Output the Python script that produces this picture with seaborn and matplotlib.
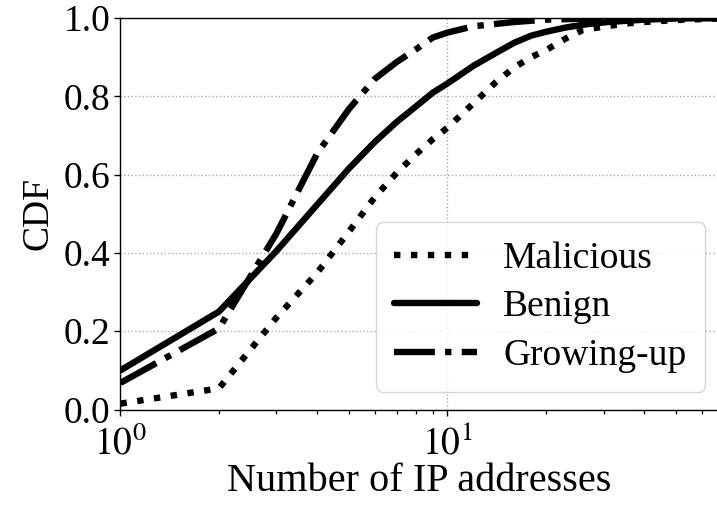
import numpy as np
import pandas as pd
import matplotlib
matplotlib.use("Agg")
import matplotlib.pyplot as plt
import seaborn as sns
from matplotlib.ticker import FixedLocator, FixedFormatter, LogLocator, NullFormatter

# ---- data ----
mal_x = [1, 2, 3, 4, 5, 6, 7, 8, 9, 10, 12, 14, 16, 18, 20, 23, 26, 30, 35, 40, 50, 67]
mal_y = [0.015, 0.054, 0.235, 0.35, 0.455, 0.543, 0.605, 0.652, 0.69, 0.72, 0.782, 0.835,
         0.874, 0.90, 0.918, 0.948, 0.970, 0.978, 0.986, 0.99, 0.995, 0.999]

ben_x = [1, 2, 3, 4, 5, 6, 7, 8, 9, 10, 12, 14, 16, 18, 20, 23, 27, 31, 40, 50, 67]
ben_y = [0.10, 0.25, 0.405, 0.524, 0.616, 0.684, 0.735, 0.774, 0.809, 0.833, 0.878, 0.91,
         0.937, 0.955, 0.965, 0.976, 0.985, 0.99, 0.996, 0.999, 1.0]

grw_x = [1, 2, 3, 4, 5, 6, 7, 8, 9, 10, 12, 14, 16, 20, 25, 30, 67]
grw_y = [0.068, 0.207, 0.45, 0.655, 0.768, 0.845, 0.888, 0.92, 0.95, 0.963, 0.979, 0.985,
         0.99, 0.996, 0.998, 1.0, 1.0]

series_names = ["Malicious", "Benign", "Growing-up"]
y_ticks = [0.0, 0.2, 0.4, 0.6, 0.8, 1.0]
x_label = "Number of IP addresses"
y_label = "CDF"

df = pd.concat([
    pd.DataFrame({"x": mal_x, "y": mal_y, "kind": series_names[0]}),
    pd.DataFrame({"x": ben_x, "y": ben_y, "kind": series_names[1]}),
    pd.DataFrame({"x": grw_x, "y": grw_y, "kind": series_names[2]}),
], ignore_index=True)

sns.set_theme(style="ticks")
plt.rcParams["font.family"] = ["Liberation Serif", "DejaVu Serif"]
plt.rcParams["mathtext.fontset"] = "stix"
for k in ["text.color", "axes.labelcolor", "xtick.color", "ytick.color", "axes.edgecolor"]:
    plt.rcParams[k] = "black"

fig = plt.figure(figsize=(7.17, 5.07), dpi=100)
ax = fig.add_axes([0.168, 0.1923, 0.832, 0.772])

lw = 4.6
sns.lineplot(
    data=df, x="x", y="y", hue="kind", style="kind",
    hue_order=series_names, style_order=series_names,
    palette=["black", "black", "black"],
    dashes={"Malicious": (1, 1.65), "Benign": "", "Growing-up": (6.4, 1.6, 1, 1.6)},
    linewidth=lw, ax=ax, sort=True, estimator=None,
)

ax.set_xscale("log")
ax.set_xlim(1, 66.7)
ax.set_ylim(0, 1.0)
ax.xaxis.set_major_locator(FixedLocator([1, 10]))
ax.xaxis.set_major_formatter(FixedFormatter([r"$10^0$", r"$10^1$"]))
ax.xaxis.set_minor_locator(LogLocator(base=10, subs=np.arange(2, 10)))
ax.xaxis.set_minor_formatter(NullFormatter())
ax.set_yticks(y_ticks)
ax.set_yticklabels([f"{v:.1f}" for v in y_ticks])

fs = 27
ax.tick_params(axis="both", which="major", labelsize=fs, direction="out", length=4,
               width=1.0, color="black", labelcolor="black")
ax.tick_params(axis="y", which="major", pad=3)
ax.tick_params(axis="x", which="major", pad=8)
ax.tick_params(axis="x", which="minor", direction="out", length=3, width=0.9, color="black")
ax.set_xlabel(x_label, fontsize=29, labelpad=0, color="black")
ax.set_ylabel(y_label, fontsize=fs, labelpad=6, color="black")

ax.grid(True, which="major", linestyle=":", color="#aaaaaa", linewidth=1.0)
ax.set_axisbelow(True)
for s in ["left", "bottom", "top"]:
    ax.spines[s].set_color("black")
    ax.spines[s].set_linewidth(1.0)
ax.spines["right"].set_visible(False)

leg = ax.legend(loc="lower right", fontsize=fs, frameon=True, handlelength=2.2,
                borderpad=0.5, labelspacing=0.38, handletextpad=0.7,
                borderaxespad=0.0, bbox_to_anchor=(0.98, 0.045))
leg.get_frame().set_edgecolor("#cccccc")
leg.get_frame().set_linewidth(1.0)
for h in leg.get_lines():
    h.set_linewidth(lw)
for t in leg.get_texts():
    t.set_color("black")

fig.savefig("out.png", dpi=100)
